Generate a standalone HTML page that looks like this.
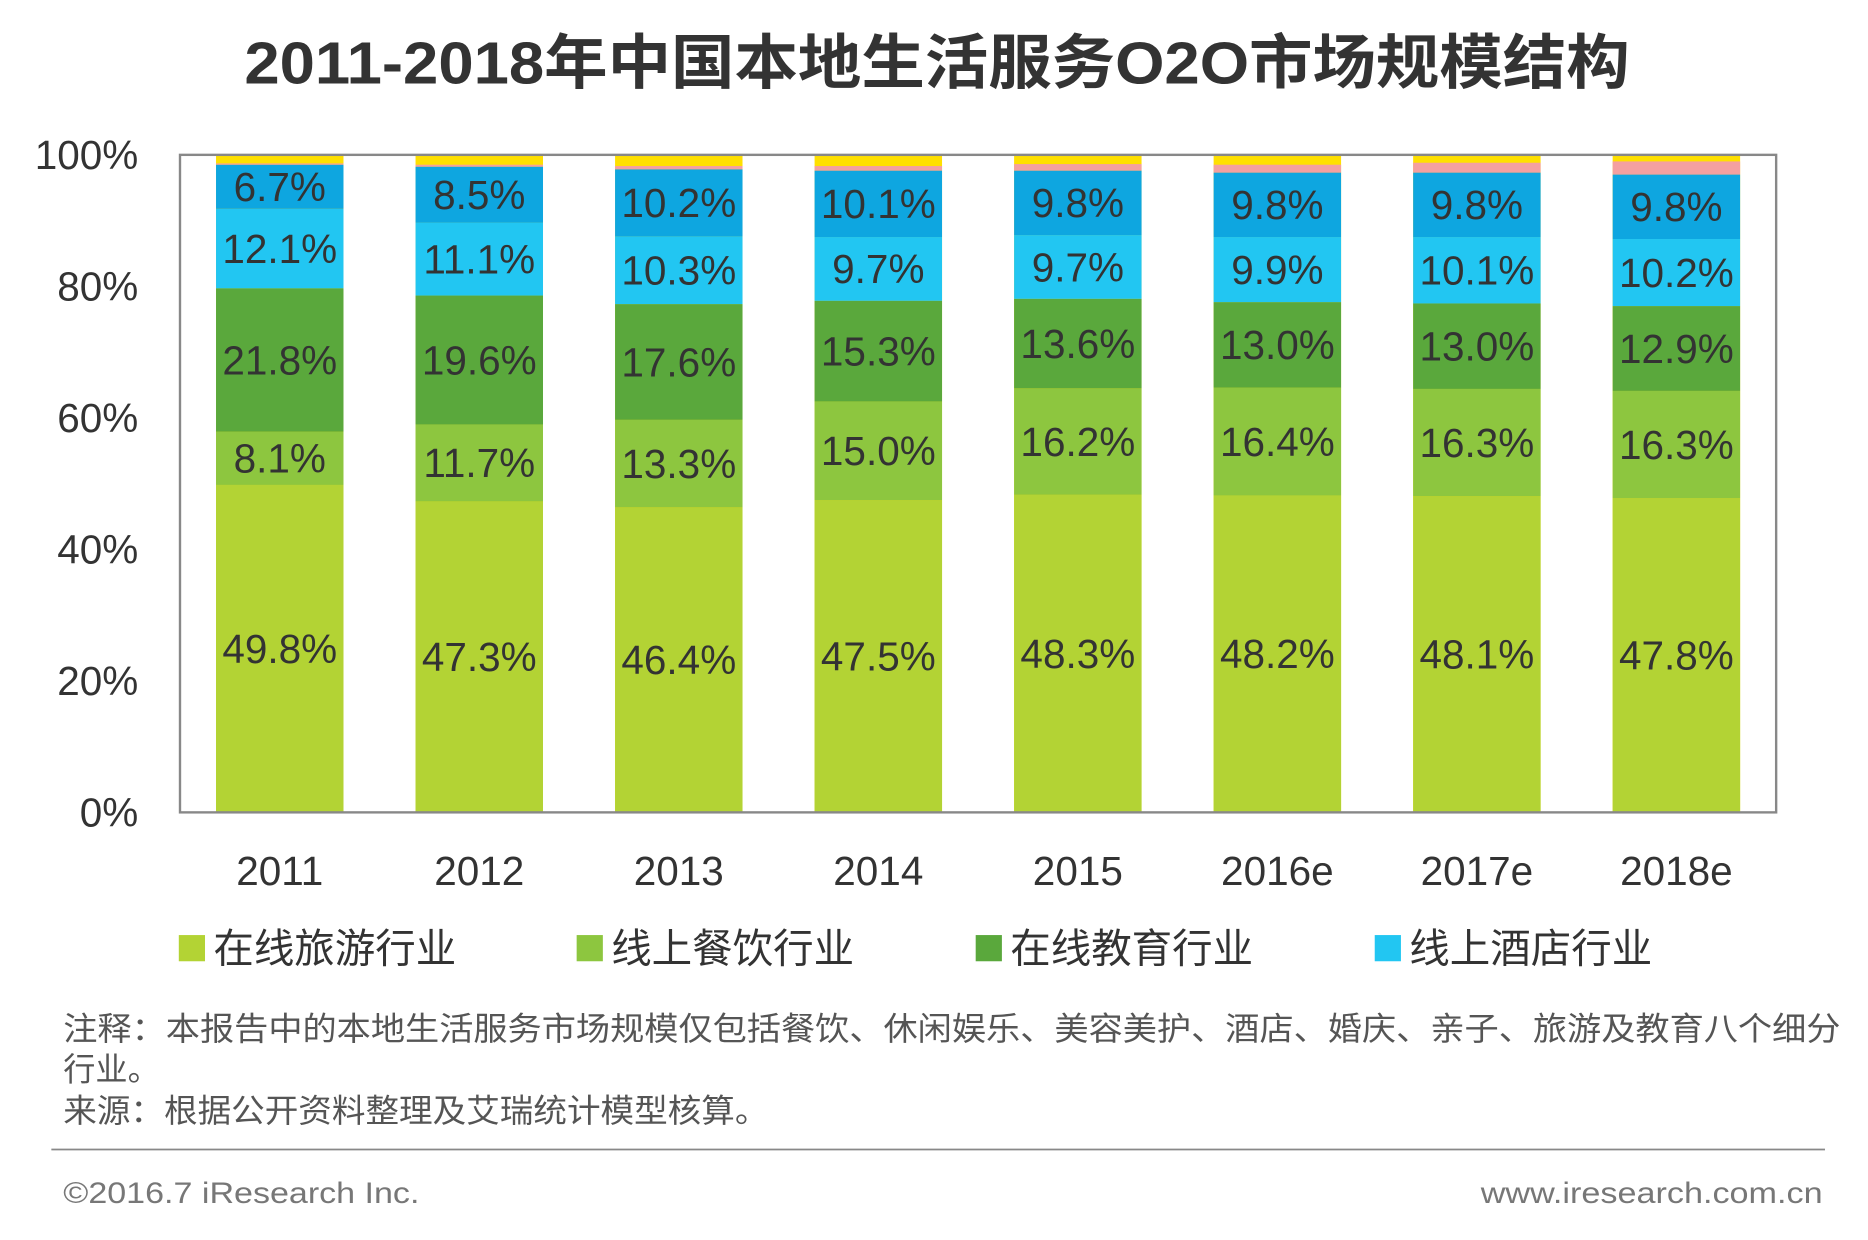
<!DOCTYPE html>
<html><head><meta charset="utf-8"><style>
html,body{margin:0;padding:0;background:#fff;}
svg{display:block;}
text{font-family:"Liberation Sans","Noto Sans CJK SC",sans-serif;}
</style></head><body>
<svg id="chart" width="1868" height="1240" viewBox="0 0 1568 1041" xmlns="http://www.w3.org/2000/svg">
<text x="205" y="70" textLength="1163" lengthAdjust="spacingAndGlyphs" font-size="50" font-weight="bold" fill="#333">2011-2018年中国本地生活服务O2O市场规模结构</text>
<g id="plot"></g>
<g id="legend"></g>
<text x="53" y="873" textLength="1492" lengthAdjust="spacingAndGlyphs" font-size="27" fill="#555">注释：本报告中的本地生活服务市场规模仅包括餐饮、休闲娱乐、美容美护、酒店、婚庆、亲子、旅游及教育八个细分</text>
<text x="53" y="907" font-size="27" fill="#555">行业。</text>
<text x="53" y="942" textLength="592" lengthAdjust="spacingAndGlyphs" font-size="27" fill="#555">来源：根据公开资料整理及艾瑞统计模型核算。</text>
<line x1="43" y1="965" x2="1532" y2="965" stroke="#888" stroke-width="1.5"/>
<text x="53" y="1010" textLength="299" lengthAdjust="spacingAndGlyphs" font-size="25" fill="#777">©2016.7 iResearch Inc.</text>
<text x="1243" y="1010" textLength="287" lengthAdjust="spacingAndGlyphs" font-size="25" fill="#777">www.iresearch.com.cn</text>
</svg>
<script>
const categories = ["2011","2012","2013","2014","2015","2016e","2017e","2018e"];
const travel = [49.8,47.3,46.4,47.5,48.3,48.2,48.1,47.8];
const dining = [8.1,11.7,13.3,15.0,16.2,16.4,16.3,16.3];
const education = [21.8,19.6,17.6,15.3,13.6,13.0,13.0,12.9];
const hotel = [12.1,11.1,10.3,9.7,9.7,9.9,10.1,10.2];
const otherBlue = [6.7,8.5,10.2,10.1,9.8,9.8,9.8,9.8];
const otherPink = [0.2,0.3,0.5,0.7,1.0,1.2,1.5,2.0];
const yTicks = [0,20,40,60,80,100];
const legendLabels = ["在线旅游行业","线上餐饮行业","在线教育行业","线上酒店行业"];

const NS="http://www.w3.org/2000/svg";
const X0=151,X1=1491,Y0=682,Y1=130;
const band=(X1-X0)/categories.length, barW=107;
const y=v=>Y0-(v/100)*(Y0-Y1);
const xc=i=>X0+band*(i+0.5);
const plot=document.getElementById('plot');
function mk(tag,attrs,parent){const e=document.createElementNS(NS,tag);for(const k in attrs)e.setAttribute(k,attrs[k]);parent.appendChild(e);return e;}

const series=[
 {vals:travel,color:"#b3d334",label:true,name:"travel"},
 {vals:dining,color:"#8dc63f",label:true,name:"dining"},
 {vals:education,color:"#5aa83c",label:true,name:"education"},
 {vals:hotel,color:"#22c6f2",label:true,name:"hotel"},
 {vals:otherBlue,color:"#0ea6e0",label:true,name:"other-blue"},
 {vals:otherPink,color:"#f4a0a0",label:false,name:"other-pink"}
];
categories.forEach((c,i)=>{
  const top=mk('rect',{x:xc(i)-barW/2,y:y(100),width:barW,height:y(0)-y(100),fill:"#ffe000"},plot);
  
  
  let cum=0;
  series.forEach(s=>{
    const v=s.vals[i];
    const r=mk('rect',{x:xc(i)-barW/2,y:y(cum+v),width:barW,height:y(cum)-y(cum+v),fill:s.color},plot);
    
    
    if(s.label){
      const t=mk('text',{x:xc(i),y:(y(cum)+y(cum+v))/2+12,'text-anchor':'middle','font-size':34,fill:'#333'},plot);
      t.textContent=v.toFixed(1)+'%';
      
      
    }
    cum+=v;
  });
  const xl=mk('text',{x:xc(i),y:743,'text-anchor':'middle','font-size':34,fill:'#333'},plot);
  xl.textContent=c;
  
  
});
const frame=mk('rect',{x:X0,y:Y1,width:X1-X0,height:Y0-Y1,fill:'none',stroke:'#888','stroke-width':2},plot);


yTicks.forEach(t=>{
  const e=mk('text',{x:116,y:y(t)+12,'text-anchor':'end','font-size':34,fill:'#333'},plot);
  e.textContent=t+'%';
  
  
});
const lg=document.getElementById('legend');
const lx=[150,484,819,1154];
legendLabels.forEach((l,i)=>{
  const sq=mk('rect',{x:lx[i],y:785,width:22,height:22,fill:series[i].color},lg);
  
  
  const t=mk('text',{x:lx[i]+29,y:808,'font-size':34,fill:'#333'},lg);
  t.textContent=l;
  
  
});
</script>
</body></html>
